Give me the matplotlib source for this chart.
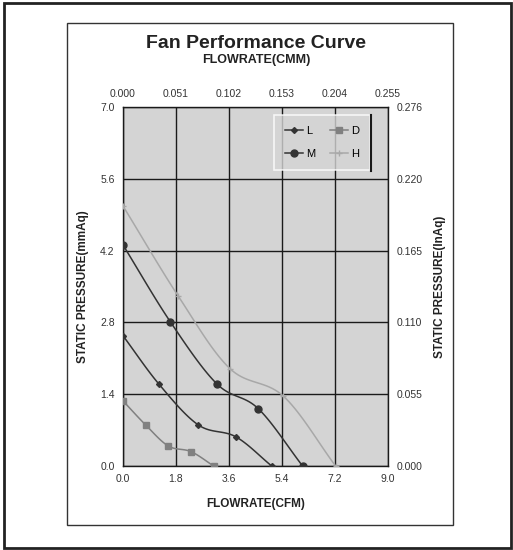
#!/usr/bin/env python3
"""
Fan performance curve - static pressure vs flowrate
"""

import matplotlib.pyplot as plt
import numpy as np
from matplotlib.patches import Rectangle
from matplotlib.lines import Line2D

plt.rcParams['font.family'] = ['Liberation Sans', 'DejaVu Sans']

# ============================================================================
# DATA (CFM, mmAq)
# ============================================================================
l_flow = [0.0, 1.23, 2.56, 3.83, 5.05]
l_pres = [2.54, 1.59, 0.80, 0.57, 0.0]

m_flow = [0.0, 1.61, 3.19, 4.59, 6.10]
m_pres = [4.31, 2.81, 1.60, 1.12, 0.0]

d_flow = [0.0, 0.77, 1.54, 2.31, 3.08]
d_pres = [1.27, 0.80, 0.39, 0.28, 0.0]

h_flow = [0.0, 1.88, 3.63, 5.45, 7.22]
h_pres = [5.07, 3.31, 1.90, 1.36, 0.0]

cfm_ticks = [0.0, 1.8, 3.6, 5.4, 7.2, 9.0]
cmm_labels = ['0.000', '0.051', '0.102', '0.153', '0.204', '0.255']
mmaq_ticks = [0.0, 1.4, 2.8, 4.2, 5.6, 7.0]
inaq_labels = ['0.000', '0.055', '0.110', '0.165', '0.220', '0.276']


def smooth(xs, ys, n=20):
    # Catmull-Rom curve through the points, like Excel's smoothed line
    p = np.column_stack([xs, ys]).astype(float)
    p = np.vstack([p[0] - (p[1] - p[0]), p, p[-1] + (p[-1] - p[-2])])
    out = []
    t = np.linspace(0, 1, n)[:, None]
    for i in range(1, len(p) - 2):
        p0, p1, p2, p3 = p[i - 1], p[i], p[i + 1], p[i + 2]
        seg = 0.5 * ((2 * p1) + (-p0 + p2) * t + (2 * p0 - 5 * p1 + 4 * p2 - p3) * t ** 2
                     + (-p0 + 3 * p1 - 3 * p2 + p3) * t ** 3)
        out.append(seg if i == 1 else seg[1:])
    out = np.vstack(out)
    return out[:, 0], out[:, 1]


fig = plt.figure(figsize=(5.13, 5.5), dpi=100)

# frames
fig.patches.append(Rectangle((4 / 513, 2 / 550), 507 / 513, 545 / 550, transform=fig.transFigure,
                             fill=False, edgecolor='#222222', linewidth=2.0))
fig.patches.append(Rectangle((67 / 513, 25 / 550), 386 / 513, 502 / 550, transform=fig.transFigure,
                             fill=False, edgecolor='#333333', linewidth=1.0))

ax = fig.add_axes([123 / 513, 84 / 550, 265 / 513, 359 / 550])
ax.set_facecolor('#d4d4d4')
ax.set_xlim(0, 9.0)
ax.set_ylim(0, 7.0)
ax.set_xticks(cfm_ticks)
ax.set_yticks(mmaq_ticks)
ax.set_xticklabels([f'{v:.1f}' for v in cfm_ticks])
ax.set_yticklabels([f'{v:.1f}' for v in mmaq_ticks])
ax.tick_params(length=0, labelsize=7.5, pad=6, colors='#333333')
ax.grid(True, color='#1a1a1a', linewidth=1.0)
ax.set_axisbelow(True)
for s in ax.spines.values():
    s.set_color('#1a1a1a')
    s.set_linewidth(1.0)

series = [
    ('L', l_flow, l_pres, '#333333', 'D', 3),
    ('D', d_flow, d_pres, '#808080', 's', 4.5),
    ('M', m_flow, m_pres, '#333333', 'o', 5),
    ('H', h_flow, h_pres, '#a8a8a8', '+', 5),
]
handles = {}
for name, xs, ys, col, mk, ms in series:
    sx, sy = smooth(xs, ys)
    ax.plot(sx, sy, color=col, linewidth=1.1, zorder=3)
    ax.plot(xs, ys, linestyle='none', marker=mk, color=col, markersize=ms, zorder=4)
    handles[name], = ax.plot([], [], color=col, linewidth=1.1, marker=mk, markersize=ms)

leg = ax.legend([handles['L'], handles['M'], handles['D'], handles['H']], ['L', 'M', 'D', 'H'],
                ncol=2, loc='upper right', bbox_to_anchor=(0.932, 0.978), borderaxespad=0,
                fontsize=8, frameon=True, fancybox=False, handlelength=1.6, handletextpad=0.3,
                columnspacing=1.3, labelspacing=1.2, borderpad=1.0)
leg.get_frame().set_facecolor('#d4d4d4')
leg.get_frame().set_edgecolor('white')
leg.get_frame().set_linewidth(1.2)
# dark right edge of the legend box
ax.add_line(Line2D([0.934, 0.934], [0.978 - 56 / 359, 0.978], transform=ax.transAxes,
                   color='#1a1a1a', linewidth=1.5, zorder=6))

# top axis (CMM)
axt = ax.twiny()
axt.set_xlim(ax.get_xlim())
axt.set_xticks(cfm_ticks)
axt.set_xticklabels(cmm_labels)
axt.tick_params(length=0, labelsize=7.5, pad=6, colors='#333333')

# right axis (InAq)
axr = ax.twinx()
axr.set_ylim(ax.get_ylim())
axr.set_yticks(mmaq_ticks)
axr.set_yticklabels(inaq_labels)
axr.tick_params(length=0, labelsize=7.5, pad=6, colors='#333333')
for a in (axt, axr):
    for s in a.spines.values():
        s.set_visible(False)

ax.set_xlabel('FLOWRATE(CFM)', fontsize=8.5, fontweight='bold', color='#222222', labelpad=10)
ax.set_ylabel('STATIC PRESSURE(mmAq)', fontsize=8.5, fontweight='bold', color='#222222', labelpad=8)
axr.set_ylabel('STATIC PRESSURE(InAq)', fontsize=8.5, fontweight='bold', color='#222222', labelpad=8)

fig.text(0.5, 1 - 44 / 550, 'Fan Performance Curve', ha='center', va='center',
         fontsize=14, fontweight='bold', color='#222222')
fig.text(0.5, 1 - 60 / 550, 'FLOWRATE(CMM)', ha='center', va='center',
         fontsize=9, fontweight='bold', color='#222222')

plt.savefig('out.png', dpi=100, facecolor='white')
